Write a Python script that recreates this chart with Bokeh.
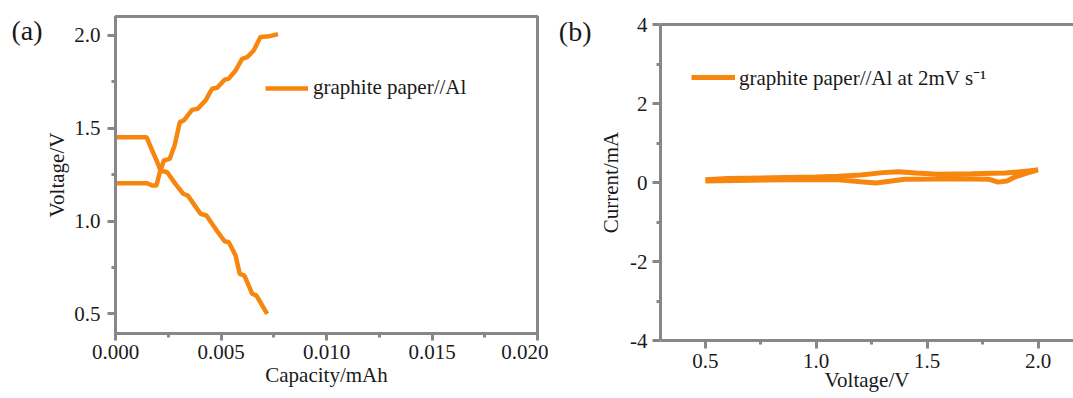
from bokeh.plotting import figure
from bokeh.models import Range1d, FixedTicker, Legend, LegendItem, LinearAxis
from bokeh.layouts import row
from bokeh.embed import file_html
from bokeh.resources import INLINE

# ---------------- data: panel (a) charge / discharge ----------------
charge_cap = [0.0, 0.0015, 0.00174, 0.00194, 0.0021, 0.00229, 0.00257, 0.0028, 0.00305,
              0.00324, 0.00363, 0.0039, 0.00427, 0.00458, 0.00482, 0.00517, 0.00537,
              0.00569, 0.0060, 0.00624, 0.00655, 0.00687, 0.00727, 0.00770]
charge_v = [1.204, 1.204, 1.191, 1.191, 1.263, 1.326, 1.335, 1.407, 1.533,
            1.542, 1.599, 1.605, 1.650, 1.713, 1.718, 1.761, 1.767,
            1.811, 1.874, 1.883, 1.919, 1.991, 1.995, 2.007]
discharge_cap = [0.0, 0.00147, 0.00174, 0.00198, 0.00213, 0.00245, 0.00284, 0.00321,
                 0.00343, 0.00403, 0.00431, 0.00474, 0.00517, 0.00537, 0.00569,
                 0.00589, 0.00611, 0.00648, 0.00668, 0.00719]
discharge_v = [1.452, 1.452, 1.380, 1.317, 1.272, 1.263, 1.200, 1.147,
               1.137, 1.039, 1.030, 0.958, 0.891, 0.886, 0.814,
               0.715, 0.706, 0.608, 0.598, 0.500]

# ---------------- data: panel (b) cyclic voltammogram ----------------
cv_v = [0.5, 0.6, 0.8, 1.0, 1.1, 1.2, 1.3, 1.37, 1.45, 1.55, 1.7, 1.85, 1.92, 2.0,
        1.95, 1.9, 1.86, 1.82, 1.78, 1.7, 1.55, 1.4, 1.33, 1.27, 1.2, 1.1, 0.9, 0.7, 0.5]
cv_i = [0.07, 0.10, 0.12, 0.14, 0.16, 0.19, 0.25, 0.27, 0.24, 0.21, 0.22, 0.24, 0.27, 0.32,
        0.24, 0.15, 0.04, 0.01, 0.08, 0.09, 0.09, 0.08, 0.03, -0.01, 0.02, 0.07, 0.07, 0.06, 0.04]

# ---------------- ticks ----------------
a_xticks = [0.0, 0.005, 0.010, 0.015, 0.020]
a_xlabels = ["0.000", "0.005", "0.010", "0.015", "0.020"]
a_xminor = [0.0025, 0.0075, 0.0125, 0.0175]
a_yticks = [0.5, 1.0, 1.5, 2.0]
a_ylabels = ["0.5", "1.0", "1.5", "2.0"]
a_yminor = [0.75, 1.25, 1.75]
b_xticks = [0.5, 1.0, 1.5, 2.0]
b_xlabels = ["0.5", "1.0", "1.5", "2.0"]
b_xminor = [0.75, 1.25, 1.75]
b_yticks = [-4, -2, 0, 2, 4]
b_ylabels = ["-4", "-2", "0", "2", "4"]
b_yminor = [-3, -1, 1, 3]
panel_tags = ["(a)", "(b)"]

ORANGE = "#F7860F"
GRAY = "#878787"
FONT = "Liberation Serif"
TXT = "#1a1a1a"


def style_axis(ax, ticks, labels, minor, tick_out=8):
    ax.ticker = FixedTicker(ticks=ticks, minor_ticks=minor)
    ax.major_label_overrides = {t: l for t, l in zip(ticks, labels)}
    ax.axis_line_color = GRAY
    ax.axis_line_width = 3
    ax.major_tick_line_color = GRAY
    ax.major_tick_line_width = 3
    ax.major_tick_out = tick_out
    ax.major_tick_in = 0
    ax.minor_tick_line_color = GRAY
    ax.minor_tick_line_width = 3
    ax.minor_tick_out = 4
    ax.minor_tick_in = 0
    ax.major_label_text_font = FONT
    ax.major_label_text_font_size = "21px"
    ax.major_label_text_color = TXT
    ax.axis_label_text_font = FONT
    ax.axis_label_text_font_size = "21px"
    ax.axis_label_text_font_style = "normal"
    ax.axis_label_text_color = TXT


def bare_axis():
    return LinearAxis(ticker=FixedTicker(ticks=[]), major_label_text_font_size="0px",
                      axis_line_color=GRAY, axis_line_width=3,
                      major_tick_line_color=None, minor_tick_line_color=None)


def tag_axis(val, text, standoff):
    # axis without line/ticks, stacked outside the y axis, that prints the panel tag
    return LinearAxis(ticker=FixedTicker(ticks=[val]),
                      major_label_overrides={val: text},
                      major_label_text_font=FONT, major_label_text_font_size="28px",
                      major_label_text_color=TXT, major_label_standoff=standoff,
                      axis_line_color=None, major_tick_line_color=None,
                      minor_tick_line_color=None, major_tick_out=0, major_tick_in=0)


def no_frame_align(p):
    if "frame_align" in p.properties():
        p.frame_align = False


# ---------------- panel (a) ----------------
p1 = figure(width=548, height=398, output_backend="svg", toolbar_location=None,
            x_range=Range1d(0.0, 0.020), y_range=Range1d(0.394, 2.102),
            min_border_left=115, min_border_right=11, min_border_top=16, min_border_bottom=65)
no_frame_align(p1)
p1.grid.visible = False
p1.outline_line_color = GRAY
p1.outline_line_width = 3
p1.background_fill_color = "white"
p1.border_fill_color = "white"

r1 = p1.line(charge_cap, charge_v, line_color=ORANGE, line_width=4.5)
r2 = p1.line(discharge_cap, discharge_v, line_color=ORANGE, line_width=4.5)

style_axis(p1.xaxis[0], a_xticks, a_xlabels, a_xminor, tick_out=7)
style_axis(p1.yaxis[0], a_yticks, a_ylabels, a_yminor, tick_out=8)
p1.xaxis[0].axis_label = "Capacity/mAh"
p1.yaxis[0].axis_label = "Voltage/V"
p1.xaxis[0].major_label_standoff = 4
p1.xaxis[0].axis_label_standoff = 1
p1.yaxis[0].major_label_standoff = 7
p1.yaxis[0].axis_label_standoff = 2
p1.add_layout(tag_axis(2.024, panel_tags[0], 0), "left")

leg1 = Legend(items=[LegendItem(label="graphite paper//Al", renderers=[r1])],
              location=(150, 233), padding=0, margin=0, spacing=0,
              glyph_width=43, glyph_height=20, label_height=20, label_standoff=5,
              label_text_font=FONT, label_text_font_size="21px", label_text_color=TXT,
              border_line_color=None, background_fill_alpha=0)
p1.add_layout(leg1, "center")

# ---------------- panel (b) ----------------
p2 = figure(width=525, height=398, output_backend="svg", toolbar_location=None,
            x_range=Range1d(0.298, 2.16), y_range=Range1d(-4, 4),
            min_border_left=112, min_border_right=0, min_border_top=24, min_border_bottom=58)
no_frame_align(p2)
p2.grid.visible = False
p2.outline_line_color = None
p2.background_fill_color = "white"
p2.border_fill_color = "white"

r3 = p2.line(cv_v, cv_i, line_color=ORANGE, line_width=5)

style_axis(p2.xaxis[0], b_xticks, b_xlabels, b_xminor, tick_out=8)
style_axis(p2.yaxis[0], b_yticks, b_ylabels, b_yminor, tick_out=8)
p2.xaxis[0].axis_label = "Voltage/V"
p2.yaxis[0].axis_label = "Current/mA"
p2.xaxis[0].major_label_standoff = 5
p2.xaxis[0].axis_label_standoff = -3
p2.yaxis[0].major_label_standoff = 5
p2.yaxis[0].axis_label_standoff = 4
p2.add_layout(bare_axis(), "above")
p2.add_layout(tag_axis(3.815, panel_tags[1], 5), "left")

leg2 = Legend(items=[LegendItem(label="graphite paper//Al at 2mV s\u207b\u00b9", renderers=[r3])],
              location=(31, 249), padding=0, margin=0, spacing=0,
              glyph_width=44, glyph_height=20, label_height=20, label_standoff=4,
              label_text_font=FONT, label_text_font_size="21px", label_text_color=TXT,
              border_line_color=None, background_fill_alpha=0)
p2.add_layout(leg2, "center")

layout = row(p1, p2)
open("out.html", "w").write(file_html(layout, INLINE))
